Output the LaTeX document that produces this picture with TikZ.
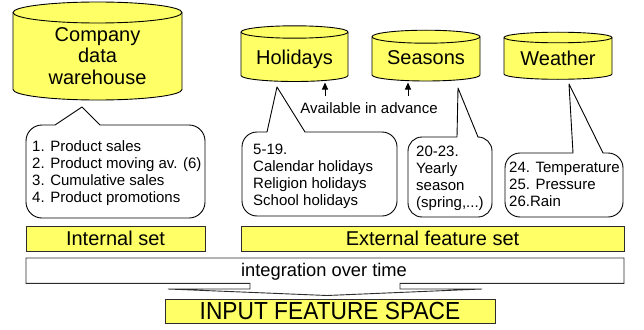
\documentclass[tikz,border=0pt]{standalone}
\usepackage{fontspec}
\setmainfont{Liberation Sans}
\usetikzlibrary{arrows.meta}
\definecolor{fillyel}{RGB}{255,255,102}
\definecolor{edgegray}{RGB}{45,45,45}
\tikzset{
  cyl/.style={draw=black, fill=fillyel, line width=0.9pt, line join=round},
  cylline/.style={draw=black, line width=0.9pt},
  biglbl/.style={inner sep=0pt, font=\fontsize{20}{21.7}\selectfont, align=center},
  smalltxt/.style={inner sep=0pt, font=\fontsize{15}{17.1}\selectfont, align=left, anchor=north west},
  barbox/.style={draw=edgegray, fill=fillyel, line width=0.9pt, inner sep=0pt, font=\fontsize{20}{22}\selectfont},
  callout/.style={draw=black, fill=white, line width=0.9pt, line join=round},
  intbox/.style={draw=edgegray, fill=white, line width=0.9pt, line join=miter},
  arr/.style={-{Triangle[length=7pt,width=6pt]}, line width=1pt},
}
% #1 L  #2 T  #3 R  #4 B  #5 radius  #6 wedge left base x  #7 wedge right base x  #8 apex x  #9 apex y
\newcommand\mycallout[9]{%
  \filldraw[callout] (#7,#2) -- ({#3-#5},#2) arc[start angle=270,end angle=360,radius=#5]
    -- (#3,{#4-#5}) arc[start angle=0,end angle=90,radius=#5]
    -- ({#1+#5},#4) arc[start angle=90,end angle=180,radius=#5]
    -- (#1,{#2+#5}) arc[start angle=180,end angle=270,radius=#5]
    -- (#6,#2) -- (#8,#9) -- cycle;}
% #1 L  #2 R  #3 top ellipse centre y  #4 bottom ellipse centre y  #5 top ry  #6 bottom ry
\newcommand\mycyl[6]{%
  \filldraw[cyl] (#1,#3) -- (#1,#4) arc[start angle=180,end angle=0,x radius={(#2-#1)/2},y radius=#6]
    -- (#2,#3) arc[start angle=0,end angle=-180,x radius={(#2-#1)/2},y radius=#5] -- cycle;
  \draw[cylline] (#1,#3) arc[start angle=180,end angle=0,x radius={(#2-#1)/2},y radius=#5];}
\begin{document}
\begin{tikzpicture}[x=1pt,y=-1pt]
\useasboundingbox (0,0) rectangle (644,329);
\fill[white] (0,0) rectangle (644,329);

% cylinders
\mycyl{13}{182}{12.5}{89.5}{10.5}{10.5}
\mycyl{241}{348}{32}{75.5}{6.2}{6}
\mycyl{372}{480}{36.7}{75}{6.5}{6}
\mycyl{504}{612}{37.5}{74}{5.3}{5.3}
\node[biglbl] (cdw) at (97.5,56) {Company\\data\\warehouse};
\node[biglbl, anchor=base] (hol) at (294.5,64) {Holidays};
\node[biglbl, anchor=base] (sea) at (426,64.7) {Seasons};
\node[biglbl, anchor=base] (wea) at (558,66) {Weather};

% available in advance
\node[inner sep=0pt, font=\fontsize{15}{17}\selectfont, anchor=base] (avail) at (369,113.3) {Available in advance};
\coordinate (a1s) at (325,96);
\coordinate (a1e) at (325,82.5);
\coordinate (a2s) at (408,96);
\coordinate (a2e) at (408,82.5);
\draw[arr] (a1s) -- (a1e);
\draw[arr] (a2s) -- (a2e);

% callouts
\mycallout{26}{125}{205}{218}{16}{55}{100}{82}{107}
\mycallout{242}{132}{397}{216}{15}{267}{305}{277}{87}
\mycallout{408}{137}{492}{217}{14}{457}{478}{458}{88}
\mycallout{505}{153}{623}{217}{15}{573}{603}{569}{84}

\node[smalltxt] (inttxt) at (32,140.4) {1. Product sales\\2. Product moving av. (6)\\3. Cumulative sales\\4. Product promotions};
\node[smalltxt] (holtxt) at (253,143.7) {5-19.\\Calendar holidays\\Religion holidays\\School holidays};
\node[smalltxt] (seatxt) at (416,145.4) {20-23.\\Yearly\\season\\(spring,...)};
\node[smalltxt] (weatxt) at (509,162.1) {24. Temperature\\25. Pressure\\26.Rain};

% feature set bars
\node[barbox, minimum width=179pt, minimum height=25pt] (intset) at (115.5,238.5) {Internal set};
\node[barbox, minimum width=383pt, minimum height=25pt] (extset) at (432.5,238.5) {External feature set};

% integration over time
\filldraw[intbox] (26,258) -- (624,258) -- (624,283.3) -- (400,283.3) -- (400,289) -- (482,289)
  -- (327,295.5) -- (168,289) -- (250,289) -- (250,283.3) -- (26,283.3) -- cycle;
\node[inner sep=0pt, font=\fontsize{18.3}{20}\selectfont, anchor=base] (integ) at (324,276) {integration over time};

% input feature space
\node[barbox, minimum width=330pt, minimum height=24pt, font=\fontsize{24.7}{26}\selectfont] (ifs) at (330,311.2) {\scalebox{0.92}[1]{INPUT FEATURE SPACE}};
\end{tikzpicture}
\end{document}
